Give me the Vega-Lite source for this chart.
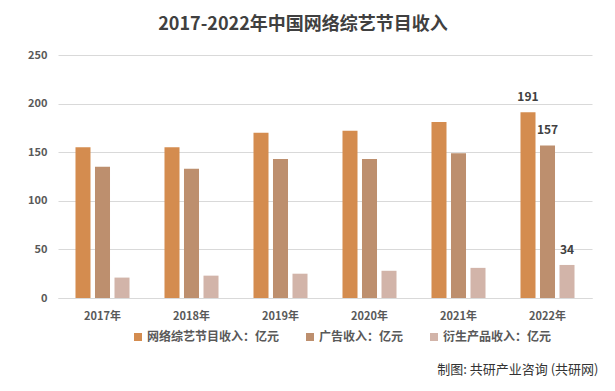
{
  "$schema": "https://vega.github.io/schema/vega-lite/v6.json",
  "width": 534,
  "height": 243,
  "autosize": {"type": "none"},
  "padding": {"left": 58, "top": 55, "right": 23, "bottom": 93},
  "background": "white",
  "config": {
    "font": "Noto Sans CJK SC",
    "view": {"stroke": null}
  },
  "title": {
    "text": "2017-2022年中国网络综艺节目收入",
    "font": "Noto Sans CJK SC",
    "fontSize": 18,
    "fontWeight": "bold",
    "color": "#404040",
    "anchor": "middle",
    "dx": -22,
    "offset": 15
  },
  "data": {
    "values": [
      {"year": "2017年", "series": "网络综艺节目收入：亿元", "value": 155},
      {"year": "2017年", "series": "广告收入：亿元", "value": 135},
      {"year": "2017年", "series": "衍生产品收入：亿元", "value": 21},
      {"year": "2018年", "series": "网络综艺节目收入：亿元", "value": 155},
      {"year": "2018年", "series": "广告收入：亿元", "value": 133},
      {"year": "2018年", "series": "衍生产品收入：亿元", "value": 23},
      {"year": "2019年", "series": "网络综艺节目收入：亿元", "value": 170},
      {"year": "2019年", "series": "广告收入：亿元", "value": 143},
      {"year": "2019年", "series": "衍生产品收入：亿元", "value": 25},
      {"year": "2020年", "series": "网络综艺节目收入：亿元", "value": 172},
      {"year": "2020年", "series": "广告收入：亿元", "value": 143},
      {"year": "2020年", "series": "衍生产品收入：亿元", "value": 28},
      {"year": "2021年", "series": "网络综艺节目收入：亿元", "value": 181},
      {"year": "2021年", "series": "广告收入：亿元", "value": 149},
      {"year": "2021年", "series": "衍生产品收入：亿元", "value": 31},
      {"year": "2022年", "series": "网络综艺节目收入：亿元", "value": 191},
      {"year": "2022年", "series": "广告收入：亿元", "value": 157},
      {"year": "2022年", "series": "衍生产品收入：亿元", "value": 34}
    ]
  },
  "encoding": {
    "x": {
      "field": "year",
      "type": "nominal",
      "sort": null,
      "scale": {"paddingInner": 0.393, "paddingOuter": 0.1965},
      "axis": {
        "title": "制图: 共研产业咨询 (共研网)",
        "titleFont": "Noto Sans CJK SC",
        "titleFontSize": 13,
        "titleFontWeight": "normal",
        "titleColor": "#333333",
        "titleAnchor": "end",
        "titleAlign": "right",
        "titleBaseline": "middle",
        "titleX": 540,
        "titleY": 71,
        "labelAngle": 0,
        "labelFontSize": 11,
        "labelFontWeight": "bold",
        "labelColor": "#595959",
        "labelPadding": 12,
        "ticks": false,
        "domainColor": "#d9d9d9",
        "domainWidth": 1
      }
    },
    "xOffset": {
      "field": "series",
      "type": "nominal",
      "sort": ["网络综艺节目收入：亿元", "广告收入：亿元", "衍生产品收入：亿元"],
      "scale": {"paddingInner": 0.23, "paddingOuter": 0}
    },
    "y": {
      "field": "value",
      "type": "quantitative",
      "scale": {"domain": [0, 250]},
      "axis": {
        "title": null,
        "values": [0, 50, 100, 150, 200, 250],
        "labelFontSize": 11,
        "labelFontWeight": "bold",
        "labelColor": "#595959",
        "labelPadding": 11,
        "ticks": false,
        "domain": false,
        "gridColor": "#d9d9d9",
        "gridWidth": 1
      }
    }
  },
  "layer": [
    {
      "mark": {"type": "bar"},
      "encoding": {
        "color": {
          "field": "series",
          "type": "nominal",
          "sort": ["网络综艺节目收入：亿元", "广告收入：亿元", "衍生产品收入：亿元"],
          "scale": {
            "domain": ["网络综艺节目收入：亿元", "广告收入：亿元", "衍生产品收入：亿元"],
            "range": ["#D48C4F", "#BD8F6E", "#D2B4A9"]
          },
          "legend": {
            "title": null,
            "orient": "none",
            "direction": "horizontal",
            "legendX": 74,
            "legendY": 276,
            "symbolType": "square",
            "symbolSize": 64,
            "symbolStrokeWidth": 0,
            "labelFontSize": 12,
            "labelFontWeight": "bold",
            "labelColor": "#595959",
            "labelOffset": 3,
            "columnPadding": 24
          }
        }
      }
    },
    {
      "transform": [{"filter": "datum.year === '2022年'"}],
      "mark": {
        "type": "text",
        "baseline": "bottom",
        "dy": -8,
        "fontSize": 12,
        "fontWeight": "bold",
        "color": "#404040"
      },
      "encoding": {
        "text": {"field": "value", "type": "quantitative"}
      }
    }
  ]
}
